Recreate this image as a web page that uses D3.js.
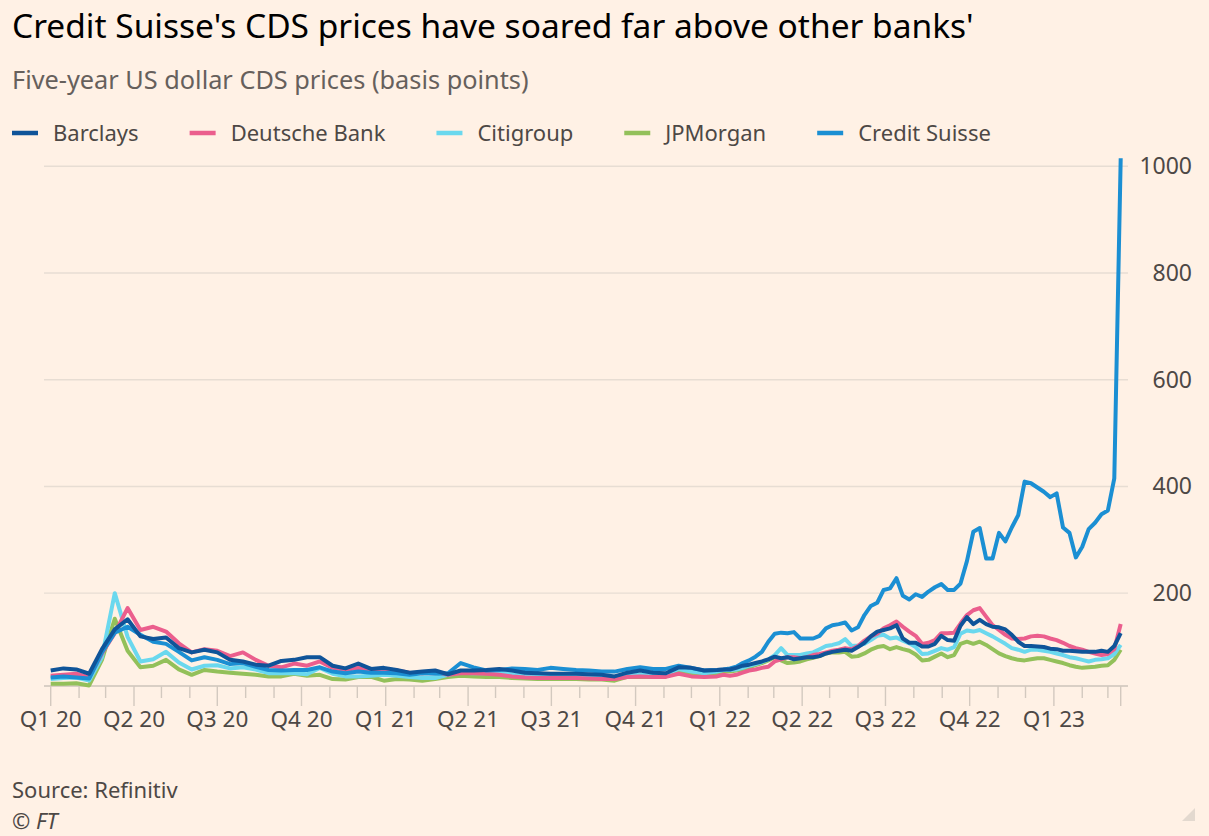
<!DOCTYPE html>
<html>
<head>
<meta charset="utf-8">
<script src="https://cdn.jsdelivr.net/npm/d3@7"></script>
<style>
  body { margin: 0; background: #fff1e5; }
  svg { display: block; font-family: "Noto Sans", sans-serif; }
</style>
</head>
<body>
<svg id="chart" width="1209" height="836"></svg>
<script>
// sampling dates: fortnightly through 2021, weekly from 2022, then the last day
const fortnightly = d3.range(53).map(i => d3.timeDay.offset(new Date(2020, 0, 1), 14 * i));
const weekly = d3.range(62).map(i => d3.timeDay.offset(new Date(2022, 0, 5), 7 * i));
const dates = fortnightly.concat(weekly, [new Date(2023, 2, 15)]);

// five-year USD CDS, basis points
const barclays = [
  55,59,57,49,95,132,151,119,114,117,97,89,94,89,75,72,66,
  64,73,75,80,80,64,59,68,58,60,56,51,
  53,55,48,55,55,56,58,55,51,50,49,49,49,48,47,44,51,55,51,50,61,60,55,56,
  57,57,60,64,66,69,72,76,81,78,80,76,78,80,80,82,87,90,92,94,92,99,107,119,128,131,134,140,115,107,107,
  100,100,105,120,112,111,139,155,142,150,142,137,136,132,122,109,101,101,100,99,96,95,92,92,91,90,90,90,92,90,101,
  125];
const deutsche = [
  45,47,49,42,87,125,172,131,137,128,106,89,95,92,82,89,75,
  64,61,68,64,72,60,56,60,53,56,55,51,
  50,53,47,50,50,49,47,44,42,41,41,41,41,40,39,39,43,44,43,43,49,44,43,44,
  47,45,47,51,55,57,60,62,72,76,80,80,78,80,84,86,89,92,94,97,95,101,111,119,124,134,140,147,137,128,120,
  105,107,112,125,125,126,143,159,168,172,156,140,131,122,115,114,115,119,120,119,115,112,107,101,97,94,90,87,84,86,95,
  142];
const citigroup = [
  39,41,42,36,80,200,118,72,76,90,70,57,64,65,59,61,57,
  50,50,50,48,60,49,44,44,45,47,45,43,
  41,41,47,51,50,50,51,48,45,44,44,43,43,42,41,41,45,47,45,47,58,53,50,53,
  56,56,57,60,64,67,71,76,84,97,84,84,84,87,89,95,101,103,106,114,101,102,105,112,120,122,115,117,111,106,99,
  86,87,92,97,94,99,124,130,128,131,125,119,112,105,97,94,90,94,94,92,90,87,84,80,78,75,72,75,76,78,86,
  103];
const jpmorgan = [
  30,30,31,27,75,152,92,61,64,75,57,47,56,53,51,49,47,
  44,44,49,45,47,39,38,43,43,36,39,38,
  36,39,43,45,44,43,43,41,40,39,39,39,39,38,38,36,43,43,43,44,55,47,47,49,
  53,53,55,57,61,65,69,74,80,74,69,70,72,76,79,82,87,89,89,90,81,82,87,94,99,101,95,99,95,92,85,
  74,75,81,87,80,84,105,109,105,109,103,95,87,82,78,75,74,76,78,78,75,72,69,65,62,60,61,62,64,65,75,
  94];
const creditSuisse = [
  42,44,42,40,89,126,137,122,109,105,90,74,80,75,67,69,62,
  56,55,56,56,61,53,50,53,51,51,50,47,
  50,49,50,69,61,55,56,59,58,56,60,58,56,55,53,53,58,61,58,58,64,60,55,56,
  57,59,62,69,74,81,90,109,124,126,125,127,115,115,115,120,134,140,142,145,130,136,159,176,182,206,209,228,195,188,198,
  193,203,211,217,206,206,218,260,315,322,265,265,313,297,323,346,409,406,398,390,380,387,323,313,267,287,320,332,348,355,415,
  1015];

const seriesNames = ["Barclays", "Deutsche Bank", "Citigroup", "JPMorgan", "Credit Suisse"];
const seriesValues = [barclays, deutsche, citigroup, jpmorgan, creditSuisse];
const seriesColors = ["#0f5499", "#eb5e8d", "#6ad8ee", "#93c05a", "#1b8fd3"];
const drawOrder = [3, 2, 1, 4, 0]; // Barclays ends up on top

const yTicks = [200, 400, 600, 800, 1000];
const quarterLabels = ["Q1 20","Q2 20","Q3 20","Q4 20","Q1 21","Q2 21","Q3 21","Q4 21","Q1 22","Q2 22","Q3 22","Q4 22","Q1 23"];

const svg = d3.select("#chart");
const W = 1209, H = 836;
const plotLeft = 44, plotRight = 1128;
const lastDay = new Date(2023, 2, 15);

svg.append("rect").attr("width", W).attr("height", H).attr("fill", "#fff1e5");

const x = d3.scaleTime()
  .domain([new Date(2020, 0, 1), lastDay])
  .range([50.7, 1120.7]);
const y = d3.scaleLinear()
  .domain([26, 1000])
  .range([686, 166.3]);

// titles
svg.append("text").attr("x", 12).attr("y", 38)
  .attr("font-size", 33.5).attr("fill", "#000")
  .text("Credit Suisse's CDS prices have soared far above other banks'");
svg.append("text").attr("x", 12).attr("y", 89)
  .attr("font-size", 25.3).attr("fill", "#66605c")
  .text("Five-year US dollar CDS prices (basis points)");

// legend
let lx = 12;
seriesNames.forEach((name, i) => {
  const g = svg.append("g");
  g.append("line").attr("x1", lx).attr("x2", lx + 26).attr("y1", 133).attr("y2", 133)
    .attr("stroke", seriesColors[i]).attr("stroke-width", 4.5);
  const t = g.append("text").attr("x", lx + 41).attr("y", 133).attr("dy", "0.35em")
    .attr("font-size", 22).attr("fill", "#4d4845").text(name);
  lx += 41 + t.node().getComputedTextLength() + 51;
});

// gridlines and y labels
const grid = svg.append("g");
yTicks.forEach(v => {
  grid.append("line").attr("x1", plotLeft).attr("x2", plotRight)
    .attr("y1", y(v)).attr("y2", y(v))
    .attr("stroke", "#e7ddd3").attr("stroke-width", 1.4);
  grid.append("text").attr("x", 1192).attr("y", y(v)).attr("dy", "0.35em")
    .attr("text-anchor", "end").attr("font-size", 23).attr("fill", "#4d4845")
    .text(v);
});

// x axis
const xAxis = svg.append("g");
xAxis.append("line").attr("x1", plotLeft).attr("x2", plotRight)
  .attr("y1", 686).attr("y2", 686).attr("stroke", "#cdc3ba").attr("stroke-width", 1.4);
const months = d3.timeMonth.range(new Date(2020, 0, 1), lastDay);
const quarters = d3.timeMonth.every(3).range(new Date(2020, 0, 1), lastDay);
months.concat([lastDay]).forEach(d => {
  const major = d.getMonth() % 3 === 0 && d.getDate() === 1 || d === lastDay;
  xAxis.append("line").attr("x1", x(d)).attr("x2", x(d))
    .attr("y1", 686).attr("y2", major ? 706 : 698)
    .attr("stroke", "#d3c9bf").attr("stroke-width", 1.4);
});
quarters.forEach((d, i) => {
  xAxis.append("text").attr("x", x(d)).attr("y", 727)
    .attr("text-anchor", "middle").attr("font-size", 22.5).attr("fill", "#4d4845")
    .text(quarterLabels[i]);
});

// lines
const line = d3.line()
  .x(d => x(d.date))
  .y(d => y(d.value));
drawOrder.forEach(i => {
  const pts = dates.map((d, j) => ({ date: d, value: seriesValues[i][j] }));
  svg.append("path").datum(pts)
    .attr("d", line)
    .attr("fill", "none")
    .attr("stroke", seriesColors[i])
    .attr("stroke-width", 4)
    .attr("stroke-linejoin", "round");
});

// footer
svg.append("text").attr("x", 12).attr("y", 798)
  .attr("font-size", 22).attr("fill", "#4d4845").text("Source: Refinitiv");
svg.append("text").attr("x", 12).attr("y", 829)
  .attr("font-size", 22).attr("font-style", "italic").attr("fill", "#4d4845").text("© FT");
svg.append("path").attr("d", "M1195,808 L1195,821 L1182,821 Z").attr("fill", "#e3d9cf");
</script>
</body>
</html>
